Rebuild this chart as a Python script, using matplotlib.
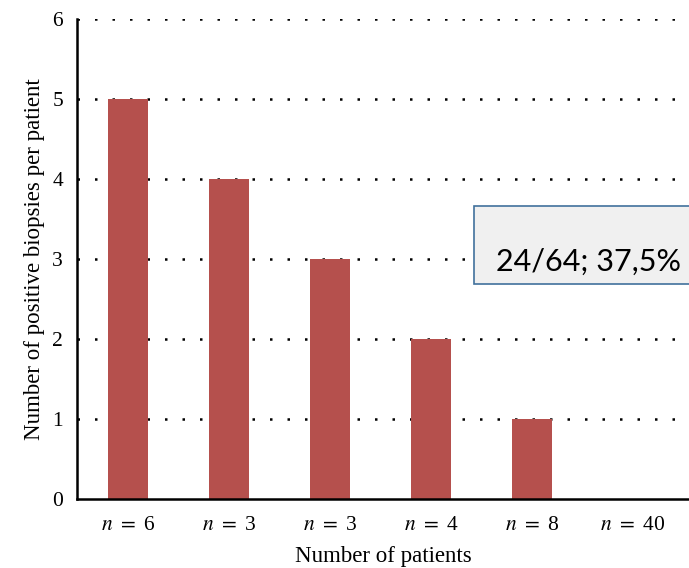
import numpy as np
import matplotlib
matplotlib.use("Agg")
import matplotlib.pyplot as plt
import matplotlib.patches as patches

# data
patients_n = [6, 3, 3, 4, 8, 40]
positive_biopsies = [5, 4, 3, 2, 1, 0]
box_text = "24/64; 37,5%"

plt.rcParams['font.family'] = ['Liberation Serif']
plt.rcParams['mathtext.fontset'] = 'stix'

fig = plt.figure(figsize=(6.89, 5.68), dpi=100)
ax = fig.add_axes([77/689, 69/568, 1 - 77/689, 480/568])

x = np.arange(len(patients_n))
ax.bar(x, positive_biopsies, width=0.4, color='#b5504d', zorder=2)

ax.set_xlim(-0.505, 5.555)
ax.set_ylim(0, 6)
ax.set_yticks(range(7))
ax.set_xticks(x)
ax.set_xticklabels(["$n$ $=$ %d" % n for n in patients_n])
ax.tick_params(axis='both', length=0, labelsize=15.5)
ax.tick_params(axis='y', pad=10)
ax.tick_params(axis='x', pad=12)

for yv in range(1, 7):
    ax.axhline(yv, color='black', lw=1.8, ls=(0, (1, 6)), zorder=1)

for s in ['top', 'right']:
    ax.spines[s].set_visible(False)
for s in ['left', 'bottom']:
    ax.spines[s].set_linewidth(1.8)

ax.set_xlabel("Number of patients", fontsize=16.5, labelpad=8)
ax.set_ylabel("Number of positive biopsies per patient", fontsize=16.5, labelpad=5)

# annotation box
rect = patches.Rectangle((474/689, 284/568), 0.4, 78/568, transform=fig.transFigure,
                         facecolor='#f0f0f0', edgecolor='#41719c', lw=1.2, zorder=5)
fig.patches.append(rect)
fig.text(496/689, 1 - 262/568, box_text, fontsize=22, family='Lato',
         ha='left', va='center', zorder=6)

fig.savefig("out.png", dpi=100)
